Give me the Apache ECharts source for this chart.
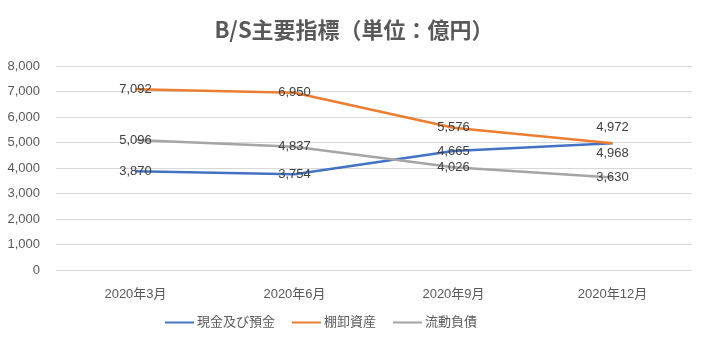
<!DOCTYPE html>
<html>
<head>
<meta charset="utf-8">
<script src="https://cdn.jsdelivr.net/npm/echarts@6/dist/echarts.min.js"></script>
<style>
  html, body { margin: 0; padding: 0; background: #fff; }
  #chart { width: 708px; height: 352px; }
</style>
</head>
<body>
<div id="chart"></div>
<script>
const categories = ['2020年3月', '2020年6月', '2020年9月', '2020年12月']
const cash = [3870, 3754, 4665, 4968]
const inventory = [7092, 6950, 5576, 4972]
const currentLiabilities = [5096, 4837, 4026, 3630]
const seriesNames = ['現金及び預金', '棚卸資産', '流動負債']
const colors = ['#4472C4', '#ED7D31', '#A5A5A5']

const font = '"Liberation Sans", "Noto Sans CJK JP", sans-serif'
const labelColor = '#404040'

// last point labels of the crossing series are pushed apart (above / below)
function makeSeries(name, data, color, lastPos, lastDist) {
  const items = data.map((v, i) => {
    if (i === data.length - 1 && lastPos) {
      return { value: v, label: { position: lastPos, distance: lastDist } }
    }
    return v
  })
  return {
    name,
    type: 'line',
    data: items,
    symbol: 'circle',
    symbolSize: 1,
    showSymbol: true,
    lineStyle: { color, width: 2.5 },
    itemStyle: { color: 'rgba(0,0,0,0)', borderWidth: 0 },
    label: {
      show: true,
      position: 'inside',
      color: labelColor,
      fontFamily: font,
      fontSize: 13,
      formatter: (p) => p.value.toLocaleString('en-US')
    },
    labelLayout: { hideOverlap: false }
  }
}

const chart = echarts.init(document.getElementById('chart'))
chart.setOption({
  animation: false,
  backgroundColor: '#fff',
  title: {
    text: 'B/S主要指標（単位：億円）',
    left: 'center',
    top: 14,
    textStyle: {
      fontFamily: '"Noto Sans CJK JP", sans-serif',
      fontSize: 22,
      fontWeight: 'bold',
      color: '#595959'
    }
  },
  legend: {
    top: 311,
    left: 160,
    itemWidth: 29,
    itemHeight: 2,
    itemGap: 17,
    icon: 'rect',
    textStyle: { fontFamily: font, fontSize: 13, color: '#595959', padding: [0, 0, 0, -2] },
    data: seriesNames.map((n, i) => ({ name: n, itemStyle: { color: colors[i], opacity: 1 } }))
  },
  grid: { left: 56, right: 16, top: 66, bottom: 82 },
  xAxis: {
    type: 'category',
    data: categories,
    boundaryGap: true,
    axisLine: { show: false },
    axisTick: { show: false },
    axisLabel: { fontFamily: font, fontSize: 13, color: '#595959', margin: 18 }
  },
  yAxis: {
    type: 'value',
    min: 0,
    max: 8000,
    interval: 1000,
    axisLine: { show: false },
    axisTick: { show: false },
    splitLine: { lineStyle: { color: '#d9d9d9', width: 1 } },
    axisLabel: {
      fontFamily: font,
      fontSize: 13,
      color: '#595959',
      margin: 16,
      formatter: (v) => v.toLocaleString('en-US')
    }
  },
  series: [
    makeSeries(seriesNames[0], cash, colors[0], 'bottom', 3),
    makeSeries(seriesNames[1], inventory, colors[1], 'top', 9),
    makeSeries(seriesNames[2], currentLiabilities, colors[2], null)
  ]
})
</script>
</body>
</html>
